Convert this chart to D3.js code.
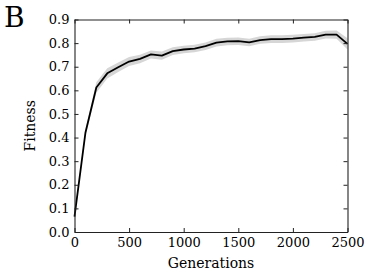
<!DOCTYPE html>
<html>
<head>
<meta charset="utf-8">
<script src="https://cdn.jsdelivr.net/npm/d3@7"></script>
<style>
  body { margin: 0; background: #fff; }
  svg { display: block; }
  text { font-family: "DejaVu Serif", serif; fill: #000; }
</style>
</head>
<body>
<div id="chart"></div>
<script>
// generations sampled every 100
const generations = [0, 100, 200, 300, 400, 500, 600, 700, 800, 900, 1000, 1100, 1200,
    1300, 1400, 1500, 1600, 1700, 1800, 1900, 2000, 2100, 2200, 2300, 2400, 2500];
const fitness = [0.065, 0.42, 0.612, 0.672, 0.698, 0.722, 0.733, 0.752, 0.747, 0.766, 0.773,
    0.777, 0.787, 0.802, 0.807, 0.808, 0.803, 0.813, 0.817, 0.817, 0.819, 0.823, 0.826,
    0.836, 0.836, 0.797];
const spread = [0.006, 0.014, 0.022, 0.022, 0.02, 0.019, 0.018, 0.017, 0.017, 0.016, 0.016,
    0.016, 0.016, 0.016, 0.016, 0.016, 0.016, 0.016, 0.016, 0.016, 0.016, 0.016, 0.016,
    0.016, 0.017, 0.024];
const xTicks = [0, 500, 1000, 1500, 2000, 2500];
const yTicks = [0.0, 0.1, 0.2, 0.3, 0.4, 0.5, 0.6, 0.7, 0.8, 0.9];

const W = 374, H = 277;
const margin = {top: 19.5, right: 26.5, bottom: 45, left: 74.5};
const w = W - margin.left - margin.right;
const h = H - margin.top - margin.bottom;

const data = generations.map((g, i) => ({g: g, v: fitness[i], s: spread[i]}));

const x = d3.scaleLinear().domain([0, 2500]).range([0, w]);
const y = d3.scaleLinear().domain([0, 0.9]).range([h, 0]);

const svg = d3.select("#chart").append("svg")
    .attr("width", W)
    .attr("height", H);

svg.append("text")
    .attr("x", 4)
    .attr("y", 27)
    .attr("font-size", "28px")
    .text("B");

const g = svg.append("g")
    .attr("transform", `translate(${margin.left},${margin.top})`);

// shaded band
const area = d3.area()
    .x(d => x(d.g))
    .y0(d => y(d.v - d.s))
    .y1(d => y(d.v + d.s));
g.append("path")
    .datum(data)
    .attr("d", area)
    .attr("fill", "#d6d6d6");

const line = d3.line()
    .x(d => x(d.g))
    .y(d => y(d.v));
g.append("path")
    .datum(data)
    .attr("d", line)
    .attr("fill", "none")
    .attr("stroke", "#000")
    .attr("stroke-width", 1.8)
    .attr("stroke-linejoin", "round");

// axes, ticks pointing inward on all four sides
const fmtY = d3.format(".1f");
const fmtX = d3.format("d");
const styleAxis = sel => {
    sel.attr("font-family", "DejaVu Serif");
    sel.select(".domain").attr("stroke", "#222").attr("stroke-width", 1.1);
    sel.selectAll(".tick line").attr("stroke", "#222").attr("stroke-width", 1);
    sel.selectAll("text")
        .style("font-family", "'DejaVu Serif', serif")
        .attr("font-size", "13px")
        .attr("fill", "#000");
};

g.append("g")
    .attr("transform", `translate(0,${h})`)
    .call(d3.axisBottom(x).tickValues(xTicks).tickSizeInner(-4).tickSizeOuter(0).tickPadding(6).tickFormat(fmtX))
    .call(styleAxis);
g.append("g")
    .call(d3.axisTop(x).tickValues(xTicks).tickSizeInner(-4).tickSizeOuter(0).tickFormat(""))
    .call(styleAxis);
g.append("g")
    .call(d3.axisLeft(y).tickValues(yTicks).tickSizeInner(-4).tickSizeOuter(0).tickPadding(5).tickFormat(fmtY))
    .call(styleAxis);
g.append("g")
    .attr("transform", `translate(${w},0)`)
    .call(d3.axisRight(y).tickValues(yTicks).tickSizeInner(-4).tickSizeOuter(0).tickFormat(""))
    .call(styleAxis);

svg.append("text")
    .attr("x", margin.left + w / 2)
    .attr("y", 268)
    .attr("text-anchor", "middle")
    .attr("font-size", "14px")
    .text("Generations");

svg.append("text")
    .attr("transform", `translate(35,${margin.top + h / 2}) rotate(-90)`)
    .attr("text-anchor", "middle")
    .attr("font-size", "14px")
    .text("Fitness");
</script>
</body>
</html>
